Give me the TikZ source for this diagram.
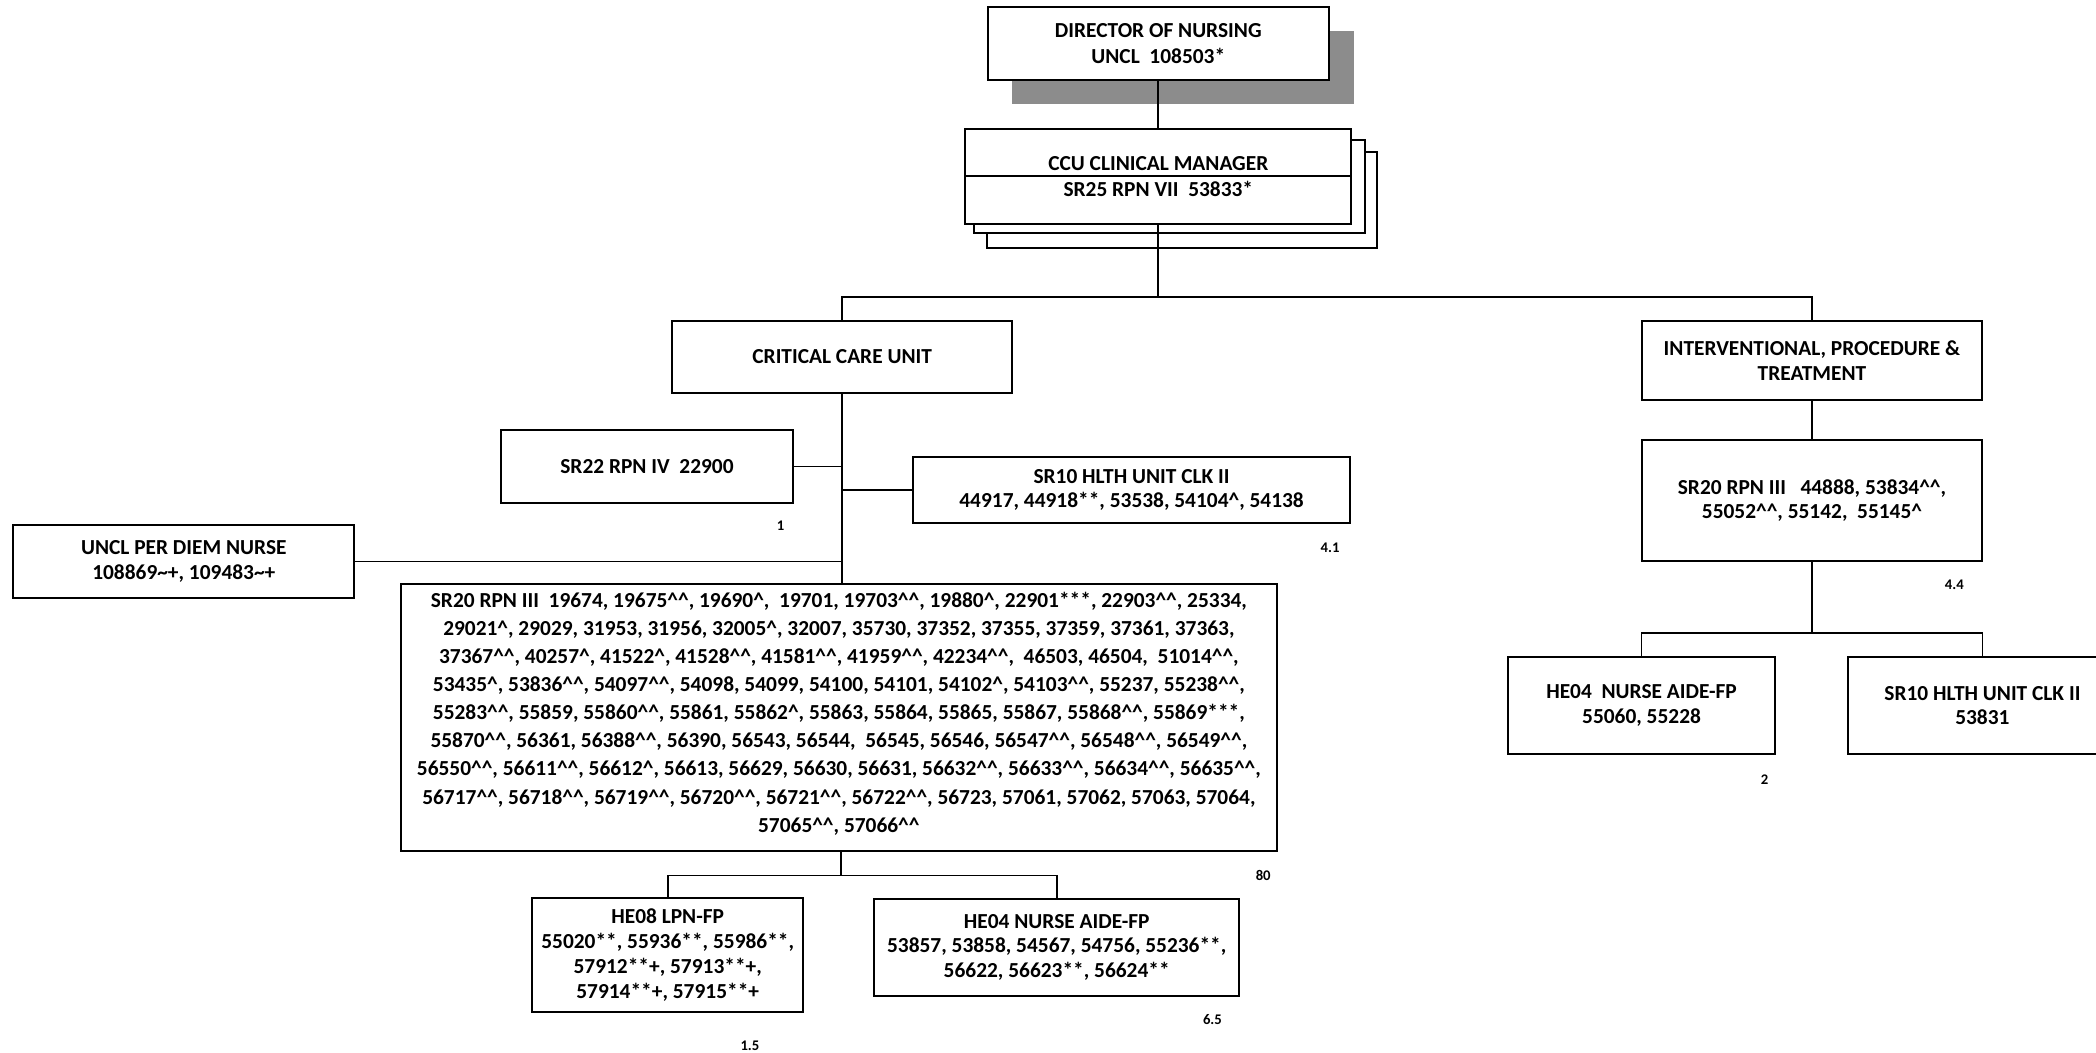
\documentclass[tikz,border=0pt]{standalone}
\usepackage{fontspec}
\setmainfont{Carlito}
\newcommand{\crt}{\textasciicircum}
\newcommand{\dcrt}{\textasciicircum\textasciicircum}
\newcommand{\tld}{\textasciitilde}
\begin{document}
\begin{tikzpicture}[x=1pt, y=-1pt, line width=1.2pt,
    every node/.style = {font=\bfseries\fontsize{16}{18.5}\selectfont},
    orgbox/.style = {draw, line width=1.5pt, fill=white, align=center, inner sep=0pt},
    fte/.style = {font=\bfseries\fontsize{11}{12}\selectfont}]
\useasboundingbox (0,0) rectangle (1568,787);
\clip (0,0) rectangle (1568,787);
\fill[black!45] (757,23) rectangle (1013,78);
\node[orgbox, minimum width=255pt, minimum height=55pt] (director) at (866.5,32.5)
    {DIRECTOR OF NURSING\\[1pt]UNCL~~108503*};
\draw[line width=1.5pt, fill=white] (738,114) rectangle (1030,185.5);
\draw[line width=1.5pt, fill=white] (729,105) rectangle (1021,174);
\node[orgbox, minimum width=289pt, minimum height=71pt] (manager) at (866.5,131.8)
    {CCU CLINICAL MANAGER\\[1pt]SR25 RPN VII~~53833*};
\draw (manager.west) -- (manager.east);
\node[orgbox, minimum width=254pt, minimum height=54pt] (ccu) at (630,267) {CRITICAL CARE UNIT};
\node[orgbox, minimum width=255pt, minimum height=59pt] (ipt) at (1355.5,269.5)
    {INTERVENTIONAL, PROCEDURE \&\\TREATMENT};
\node[orgbox, minimum width=255pt, minimum height=90pt] (rpnright) at (1355.5,374.5)
    {SR20 RPN III~~~44888, 53834\dcrt,\\55052\dcrt, 55142,~~55145\crt};
\node[orgbox, minimum width=200pt, minimum height=72.5pt] (aideright) at (1228,527.75)
    {HE04~~NURSE AIDE-FP\\55060, 55228};
\node[orgbox, minimum width=201pt, minimum height=72.5pt] (clkright) at (1483,527.75)
    {SR10 HLTH UNIT CLK II\\53831};
\node[orgbox, minimum width=218pt, minimum height=54pt] (rpniv) at (484,349) {SR22 RPN IV~~22900};
\node[orgbox, minimum width=327pt, minimum height=49pt] (clkleft) at (846.5,366.5)
    {SR10 HLTH UNIT CLK II\\44917, 44918**, 53538, 54104\crt, 54138};
\node[orgbox, minimum width=255pt, minimum height=54pt] (perdiem) at (137.5,420)
    {UNCL PER DIEM NURSE\\108869\tld+, 109483\tld+};
\node[orgbox, minimum width=655pt, minimum height=199.5pt, font=\bfseries\fontsize{16}{21}\selectfont] (rpniii) at (627.5,536.75)
    {SR20 RPN III~~19674, 19675\dcrt, 19690\crt,~~19701, 19703\dcrt, 19880\crt, 22901***, 22903\dcrt, 25334,\\
     29021\crt, 29029, 31953, 31956, 32005\crt, 32007, 35730, 37352, 37355, 37359, 37361, 37363,\\
     37367\dcrt, 40257\crt, 41522\crt, 41528\dcrt, 41581\dcrt, 41959\dcrt, 42234\dcrt,~~46503, 46504,~~51014\dcrt,\\
     53435\crt, 53836\dcrt, 54097\dcrt, 54098, 54099, 54100, 54101, 54102\crt, 54103\dcrt, 55237, 55238\dcrt,\\
     55283\dcrt, 55859, 55860\dcrt, 55861, 55862\crt, 55863, 55864, 55865, 55867, 55868\dcrt, 55869***,\\
     55870\dcrt, 56361, 56388\dcrt, 56390, 56543, 56544,~~56545, 56546, 56547\dcrt, 56548\dcrt, 56549\dcrt,\\
     56550\dcrt, 56611\dcrt, 56612\crt, 56613, 56629, 56630, 56631, 56632\dcrt, 56633\dcrt, 56634\dcrt, 56635\dcrt,\\
     56717\dcrt, 56718\dcrt, 56719\dcrt, 56720\dcrt, 56721\dcrt, 56722\dcrt, 56723, 57061, 57062, 57063, 57064,\\
     57065\dcrt, 57066\dcrt\\[-13pt]\mbox{}};
\node[orgbox, minimum width=203pt, minimum height=85pt] (lpn) at (499.5,714.5)
    {HE08 LPN-FP\\55020**, 55936**, 55986**,\\57912**+, 57913**+,\\57914**+, 57915**+};
\node[orgbox, minimum width=273pt, minimum height=72.5pt] (aideleft) at (790.5,708.75)
    {HE04 NURSE AIDE-FP\\53857, 53858, 54567, 54756, 55236**,\\56622, 56623**, 56624**};
\coordinate (split) at (866.5,222);
\coordinate (rightsplit) at (1355.5,473.5);
\coordinate (lowsplit) at (629,655);
\draw (director.south) -- (manager.north);
\draw (manager.south) -- (split);
\draw (ccu.north) |- (split) -| (ipt.north);
\draw (ipt.south) -- (rpnright.north);
\draw (rpnright.south) -- (rightsplit);
\draw (aideright.north) |- (rightsplit) -| (clkright.north);
\draw (ccu.south) -- (ccu.south |- rpniii.north);
\draw (rpniv.east) -- (rpniv.east -| ccu.south);
\draw (clkleft.west) -- (clkleft.west -| ccu.south);
\draw (perdiem.east) -- (perdiem.east -| ccu.south);
\draw (rpniii.south -| lowsplit) -- (lowsplit);
\draw (lpn.north) |- (lowsplit) -| (aideleft.north);
\node[fte] (fteiv) at (584,393) {1};
\node[fte] (fteclk) at (995,410) {4.1};
\node[fte] (fteipt) at (1462,437.6) {4.4};
\node[fte] (fteaide) at (1320,583) {2};
\node[fte] (fterpn) at (945,655) {80};
\node[fte] (ftelpn) at (561,782) {1.5};
\node[fte] (fteaidel) at (907,763) {6.5};
\end{tikzpicture}
\end{document}
